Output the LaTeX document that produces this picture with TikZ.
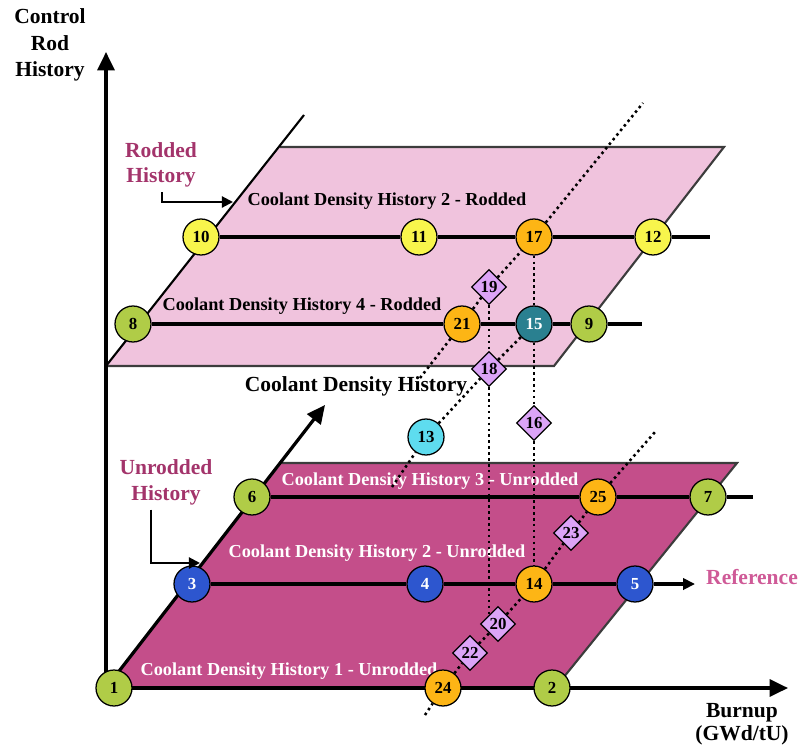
\documentclass[tikz,border=0pt]{standalone}
\usepackage{fontspec}
\setmainfont{Liberation Serif}
\usetikzlibrary{arrows.meta,shapes.geometric,calc}

\definecolor{rodpink}{HTML}{F0C3DD}
\definecolor{unrodpink}{HTML}{C44E8A}
\definecolor{edgegray}{HTML}{3C3C3C}
\definecolor{histpurple}{HTML}{A3346B}
\definecolor{refpink}{HTML}{CF5A97}
\definecolor{ptgreen}{HTML}{B0CC47}
\definecolor{ptyellow}{HTML}{F8F54C}
\definecolor{ptorange}{HTML}{FDB515}
\definecolor{ptblue}{HTML}{2D56CF}
\definecolor{ptteal}{HTML}{2A8090}
\definecolor{ptcyan}{HTML}{5EDCEF}
\definecolor{ptlilac}{HTML}{DCA4F7}

\begin{document}
\begin{tikzpicture}[
    x=0.025cm, y=-0.025cm,
    ptnode/.style={circle, draw=black, line width=0.9pt, minimum size=25.6pt, inner sep=0pt, font=\fontsize{12}{14}\selectfont\bfseries},
    greenpt/.style={ptnode, fill=ptgreen},
    yellowpt/.style={ptnode, fill=ptyellow},
    orangept/.style={ptnode, fill=ptorange},
    bluept/.style={ptnode, fill=ptblue, text=white},
    tealpt/.style={ptnode, fill=ptteal, text=white},
    cyanpt/.style={ptnode, fill=ptcyan},
    lilacpt/.style={ptnode, diamond, fill=ptlilac, minimum size=25pt},
    planeedge/.style={draw=edgegray, line width=1.5pt},
    planelbl/.style={font=\fontsize{13}{15}\selectfont\bfseries},
    biglbl/.style={font=\fontsize{15.3}{19}\selectfont\bfseries, align=center},
    axisline/.style={line width=2.3pt, -{Triangle[length=13pt, width=12pt]}},
    rowline/.style={line width=2.3pt},
    smallarrow/.style={line width=1.5pt, -{Triangle[length=8pt, width=8pt]}},
    dotline/.style={line width=1.8pt, dash pattern=on 1.8pt off 2.4pt}
]
\useasboundingbox (0,0) rectangle (800,749);

% rodded plane
\fill[rodpink] (106,366) -- (280,147) -- (724,147) -- (554,366) -- cycle;
\draw[planeedge] (280,147) -- (724,147) -- (554,366) -- (106,366);
\draw[line width=1.5pt] (106,366) -- (304,115);

% unrodded plane
\fill[unrodpink] (106,688) -- (282,463) -- (737,463) -- (555,688) -- cycle;
\draw[planeedge] (282,463) -- (737,463) -- (555,688);

% axes
\coordinate (o) at (106,688);
\coordinate (ytip) at (106,52);
\coordinate (xtip) at (788,688);
\coordinate (ztip) at (325,405);
\draw[axisline] (o) -- (ytip);
\draw[axisline] (o) -- (xtip);
\draw[axisline] (o) -- (ztip);

% history labels on the planes
\node[planelbl] (lbl2r) at (387,201) {Coolant Density History 2 - Rodded};
\node[planelbl] (lbl4r) at (302,306) {Coolant Density History 4 - Rodded};
\node[planelbl, text=white] (lbl3u) at (430,481) {Coolant Density History 3 - Unrodded};
\node[planelbl, text=white] (lbl2u) at (377,553) {Coolant Density History 2 - Unrodded};
\node[planelbl, text=white] (lbl1u) at (289,671) {Coolant Density History 1 - Unrodded};

% state points
\node[greenpt] (n1) at (114,688) {1};
\node[greenpt] (n2) at (552,688) {2};
\node[bluept] (n3) at (192,584) {3};
\node[bluept] (n4) at (425,584) {4};
\node[bluept] (n5) at (635,584) {5};
\node[greenpt] (n6) at (252,497) {6};
\node[greenpt] (n7) at (708,497) {7};
\node[greenpt] (n8) at (133,324) {8};
\node[greenpt] (n9) at (589,324) {9};
\node[yellowpt] (n10) at (201,237) {10};
\node[yellowpt] (n11) at (419,237) {11};
\node[yellowpt] (n12) at (653,237) {12};
\node[cyanpt] (n13) at (426,437) {13};
\node[orangept] (n14) at (534,584) {14};
\node[tealpt] (n15) at (534,324) {15};
\node[lilacpt] (n16) at (534,423) {16};
\node[orangept] (n17) at (534,237) {17};
\node[lilacpt] (n18) at (489,369) {18};
\node[lilacpt] (n19) at (489,287) {19};
\node[lilacpt] (n20) at (498,624) {20};
\node[orangept] (n21) at (462,324) {21};
\node[lilacpt] (n22) at (470,653) {22};
\node[lilacpt] (n23) at (571,533) {23};
\node[orangept] (n24) at (443,688) {24};
\node[orangept] (n25) at (598,497) {25};

% history lines
\coordinate (end2r) at (710,237);
\coordinate (end4r) at (642,324);
\coordinate (end3u) at (753,497);
\coordinate (reftip) at (695,584);
\draw[rowline] (n10) -- (n11) -- (n17) -- (n12) -- (end2r);
\draw[rowline] (n8) -- (n21) -- (n15) -- (n9) -- (end4r);
\draw[rowline] (n6) -- (n25) -- (n7) -- (end3u);
\draw[rowline] (n3) -- (n4) -- (n14) -- (n5);
\draw[rowline, -{Triangle[length=8.5pt, width=8pt]}] (n5) -- (reftip);

% branch paths
\coordinate (a0) at (425,715);
\coordinate (a1) at (655,432);
\coordinate (b0) at (392,487);
\coordinate (c0) at (420,378);
\coordinate (c1) at (643,103);
\draw[dotline] (a0) -- (n24) -- (n22) -- (n20) -- (n14) -- (n23) -- (n25) -- (a1);
\draw[dotline] (b0) -- (n13) -- (n18) -- (n15);
\draw[dotline] (c0) -- (n21) -- (n19) -- (n17) -- (c1);
\draw[dotline] (n17) -- (n15) -- (n16) -- (n14);
\draw[dotline] (n19) -- (n18) -- (n18 |- n20.north west);

% axis and side labels
\node[biglbl] (crh) at (50,45) {Control\\Rod\\History};
\node[biglbl, font=\fontsize{15.3}{16}\selectfont\bfseries] (burnup) at (742,724) {Burnup\\(GWd/tU)};
\node[biglbl] (cdh) at (356,386) {Coolant Density History};
\node[biglbl, text=histpurple, font=\fontsize{15.3}{17.8}\selectfont\bfseries] (rodlbl) at (161,165) {Rodded\\History};
\node[biglbl, text=histpurple, font=\fontsize{15.3}{18.4}\selectfont\bfseries] (unrlbl) at (166,482) {Unrodded\\History};
\node[biglbl, text=refpink] (reflbl) at (752,577) {Reference};

\coordinate (rodtip) at (233,202);
\coordinate (unrtip) at (200,563);
\draw[smallarrow] ([xshift=1pt]rodlbl.south) |- (rodtip);
\draw[smallarrow] ($(unrlbl.south)+(-15,0)$) |- (unrtip);

\end{tikzpicture}
\end{document}
